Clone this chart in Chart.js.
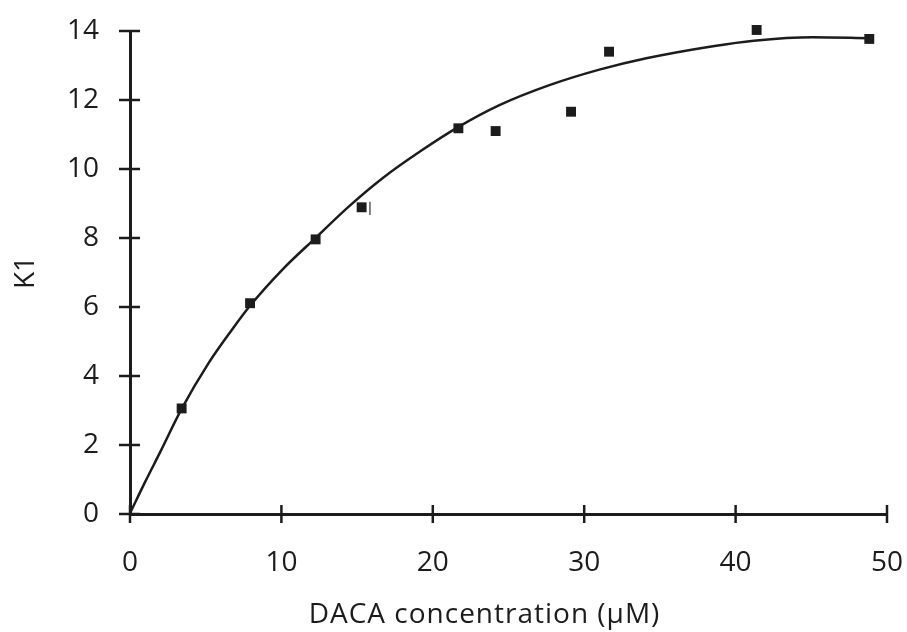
<!DOCTYPE html>
<html>
<head>
<meta charset="utf-8">
<script src="https://cdn.jsdelivr.net/npm/chart.js@4.4.1/dist/chart.umd.min.js"></script>
<style>
  html, body { margin: 0; padding: 0; background: #ffffff; }
  #wrap { width: 907px; height: 632px; }
</style>
</head>
<body>
<div id="wrap"><canvas id="chart" width="907" height="632"></canvas></div>
<script>
// Measured K1 values against DACA concentration (µM)
const concentration = [3.41, 7.93, 12.26, 15.30, 21.69, 24.15, 29.13, 31.64, 41.39, 48.83];
const k1Values      = [3.06, 6.11, 7.96, 8.89, 11.18, 11.10, 11.66, 13.40, 14.03, 13.77];

// Fitted curve through the measurements
const fitX = [0, 1.0, 2.0, 3.4, 5.2, 6.7, 7.9, 10.1, 12.3, 14.5, 16.7, 19.2, 21.7, 24.4, 27.7, 31.0, 34.1, 38.5, 41.2, 45.1, 48.8];
const fitY = [0.02, 0.93, 1.80, 3.04, 4.38, 5.32, 6.02, 7.10, 8.02, 8.93, 9.74, 10.52, 11.22, 11.85, 12.43, 12.88, 13.21, 13.56, 13.72, 13.82, 13.79];

// Small error bar beside the 15 µM point
const errBarX = [15.85, 15.85];
const errBarY = [8.67, 9.05];

// Axis ranges and tick steps
const xRange = [0, 50];
const xStep = 10;
const yRange = [0, 14];
const yStep = 2;

const xTitle = 'DACA concentration (\u03BCM)';
const yTitle = 'K1';

const INK = '#1c1c1c';
const FONT = '"Open Sans", "DejaVu Sans", sans-serif';

const toPoints = (xs, ys) => xs.map((x, i) => ({ x: x, y: ys[i] }));

// Tick marks that cross each axis line, plus the x-axis caption
const axisDecor = {
  id: 'axisDecor',
  afterDraw(chart) {
    const { ctx, chartArea, scales } = chart;
    ctx.save();
    ctx.strokeStyle = INK;
    ctx.lineWidth = 2.5;
    ctx.lineCap = 'butt';
    const xs = scales.x, ys = scales.y;
    xs.ticks.forEach((t, i) => {
      const px = xs.getPixelForTick(i);
      ctx.beginPath();
      ctx.moveTo(px, chartArea.bottom - 9);
      ctx.lineTo(px, chartArea.bottom + 9);
      ctx.stroke();
    });
    ys.ticks.forEach((t, i) => {
      const py = ys.getPixelForTick(i);
      ctx.beginPath();
      ctx.moveTo(chartArea.left - 11, py);
      ctx.lineTo(chartArea.left + 10, py);
      ctx.stroke();
    });
    ctx.fillStyle = INK;
    ctx.font = '28px ' + FONT;
    ctx.letterSpacing = '1px';
    ctx.textAlign = 'center';
    ctx.textBaseline = 'middle';
    ctx.fillText(xTitle, (chartArea.left + chartArea.right) / 2 - 24, 615);
    ctx.restore();
  }
};

// Keep the plot box fixed: no extra room reserved for overhanging tick labels
const noOverhang = s => {
  s.paddingLeft = 0; s.paddingRight = 0; s.paddingTop = 0; s.paddingBottom = 0;
};

new Chart(document.getElementById('chart'), {
  type: 'scatter',
  data: {
    datasets: [
      {
        label: 'Fit',
        data: toPoints(fitX, fitY),
        showLine: true,
        borderColor: INK,
        borderWidth: 2.5,
        pointRadius: 0,
        cubicInterpolationMode: 'monotone',
        fill: false,
        order: 2
      },
      {
        label: 'Error',
        data: toPoints(errBarX, errBarY),
        showLine: true,
        borderColor: '#333333',
        borderWidth: 1.2,
        pointRadius: 0,
        order: 1
      },
      {
        label: 'K1',
        data: toPoints(concentration, k1Values),
        pointStyle: 'rect',
        pointRadius: 7,
        pointBackgroundColor: INK,
        pointBorderColor: INK,
        pointBorderWidth: 0,
        showLine: false,
        clip: false,
        order: 0
      }
    ]
  },
  options: {
    responsive: false,
    animation: false,
    devicePixelRatio: 1,
    layout: { padding: { top: 31, right: 20, left: 0, bottom: 0 } },
    plugins: {
      legend: { display: false },
      tooltip: { enabled: false }
    },
    scales: {
      x: {
        type: 'linear',
        min: xRange[0],
        max: xRange[1],
        afterFit: s => { s.height = 118; noOverhang(s); },
        ticks: {
          stepSize: xStep,
          color: INK,
          font: { family: FONT, size: 28 },
          padding: 32,
          maxRotation: 0
        },
        grid: { display: true, drawOnChartArea: false, drawTicks: false },
        border: { display: true, color: INK, width: 3 }
      },
      y: {
        type: 'linear',
        min: yRange[0],
        max: yRange[1],
        afterFit: s => { s.width = 130; noOverhang(s); },
        ticks: {
          stepSize: yStep,
          color: INK,
          font: { family: FONT, size: 28 },
          padding: 31
        },
        grid: { display: true, drawOnChartArea: false, drawTicks: false },
        border: { display: true, color: INK, width: 3 },
        title: {
          display: true,
          text: yTitle,
          color: INK,
          font: { family: FONT, size: 28 },
          padding: { top: 9, bottom: 0 }
        }
      }
    }
  },
  plugins: [axisDecor]
});
</script>
</body>
</html>
